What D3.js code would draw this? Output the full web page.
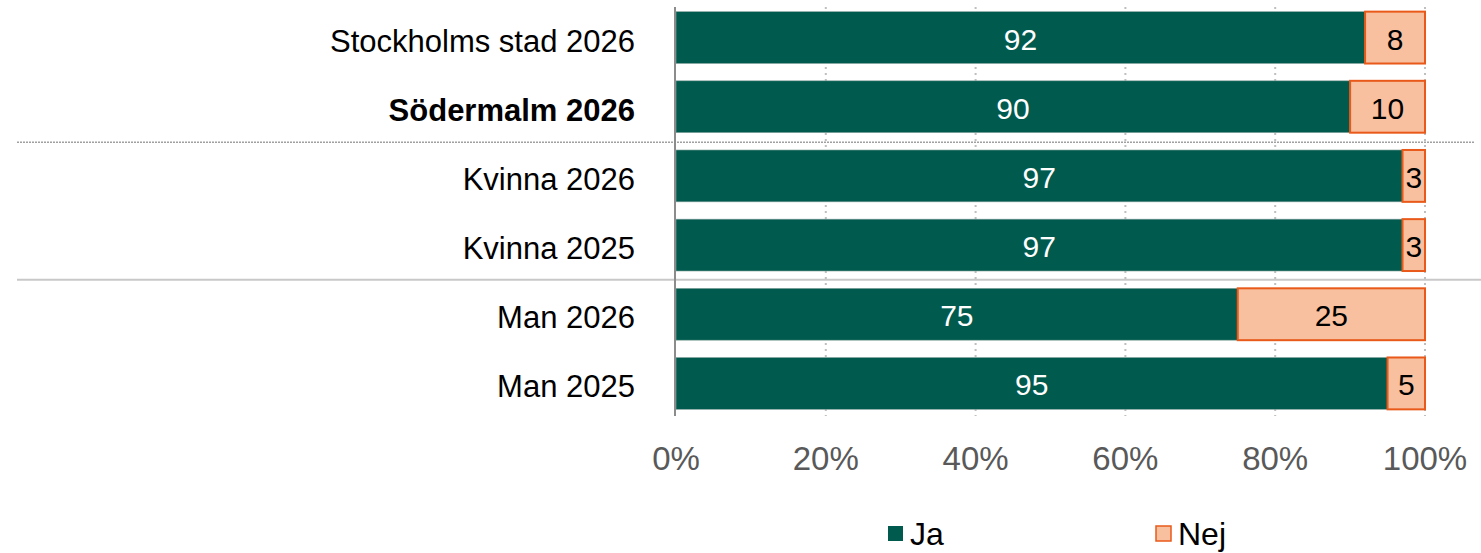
<!DOCTYPE html>
<html><head><meta charset="utf-8">
<script src="https://cdn.jsdelivr.net/npm/d3@7"></script>
<style>body{margin:0;background:#fff}svg{display:block;font-family:"Liberation Sans",Arial,sans-serif}</style>
</head><body><svg id="c" width="1481" height="553"></svg>
<script>
const categories = ["Stockholms stad 2026","Södermalm 2026","Kvinna 2026","Kvinna 2025","Man 2026","Man 2025"];
const boldCategories = ["Södermalm 2026"];
const ja = [92,90,97,97,75,95];
const nej = [8,10,3,3,25,5];
const ticks = [0,20,40,60,80,100];
const seriesNames = ["Ja","Nej"];
const colors = {Ja:"#005A4E", Nej:"#F9C09F"};
const nejStroke = "#E8591A";

const svg = d3.select("#c");
const x = d3.scaleLinear().domain([0,100]).range([676,1425]);
const y = d3.scaleBand().domain(categories).range([3,418]).paddingInner(0.25).paddingOuter(0.125);

// gridlines
svg.append("g").selectAll("line").data(ticks.slice(1)).join("line")
  .attr("x1",d=>x(d)).attr("x2",d=>x(d)).attr("y1",7).attr("y2",416)
  .attr("stroke","#BFBFBF").attr("stroke-width",2).attr("stroke-dasharray","2,4");

// separators
const sep1 = (y(categories[1])+y.bandwidth()+y(categories[2]))/2;
const sep2 = (y(categories[3])+y.bandwidth()+y(categories[4]))/2;
svg.append("line").attr("x1",17).attr("x2",1475).attr("y1",sep1+1).attr("y2",sep1+1)
  .attr("stroke","#A0A0A0").attr("stroke-width",1.5).attr("stroke-dasharray","2,1");
svg.append("line").attr("x1",17).attr("x2",1481).attr("y1",sep2).attr("y2",sep2)
  .attr("stroke","#C8C8C8").attr("stroke-width",2);

const rows = categories.map((c,i)=>({c, ja:ja[i], nej:nej[i]}));

// Ja bars
svg.append("g").selectAll("rect").data(rows).join("rect")
  .attr("x",x(0)).attr("y",d=>y(d.c)).attr("width",d=>x(d.ja)-x(0)).attr("height",y.bandwidth())
  .attr("fill",colors.Ja).attr("stroke","#8FA8A3").attr("stroke-width",0.6);
// Nej bars
svg.append("g").selectAll("rect").data(rows).join("rect")
  .attr("x",d=>x(d.ja)).attr("y",d=>y(d.c)).attr("width",d=>x(d.ja+d.nej)-x(d.ja)).attr("height",y.bandwidth())
  .attr("fill",colors.Nej).attr("stroke",nejStroke).attr("stroke-width",2);

// labels
svg.append("g").selectAll("text").data(rows).join("text")
  .attr("x",d=>(x(0)+x(d.ja))/2).attr("y",d=>y(d.c)+y.bandwidth()/2+12)
  .attr("text-anchor","middle").attr("fill","#fff").attr("font-size",30).text(d=>d.ja);
svg.append("g").selectAll("text").data(rows).join("text")
  .attr("x",d=>(x(d.ja)+x(d.ja+d.nej))/2).attr("y",d=>y(d.c)+y.bandwidth()/2+12)
  .attr("text-anchor","middle").attr("fill","#000").attr("font-size",30).text(d=>d.nej);

// y axis line
svg.append("line").attr("x1",675).attr("x2",675).attr("y1",7).attr("y2",416)
  .attr("stroke","#8C8C8C").attr("stroke-width",2);

// category labels
svg.append("g").selectAll("text").data(categories).join("text")
  .attr("x",635).attr("y",d=>y(d)+y.bandwidth()/2+14).attr("text-anchor","end")
  .attr("font-size",31).attr("fill","#000")
  .attr("font-weight",d=>boldCategories.includes(d)?"bold":"normal").text(d=>d);

// x tick labels
svg.append("g").selectAll("text").data(ticks).join("text")
  .attr("x",d=>x(d)).attr("y",470).attr("text-anchor","middle")
  .attr("font-size",33).attr("fill","#595959").text(d=>d+"%");

// legend
const leg = [{n:"Ja",x:887},{n:"Nej",x:1155}];
const lg = svg.append("g").selectAll("g").data(leg).join("g");
lg.append("rect").attr("x",d=>d.x+1).attr("y",526).attr("width",15).attr("height",15)
  .attr("fill",d=>colors[d.n]).attr("stroke",d=>d.n==="Nej"?nejStroke:"none").attr("stroke-width",1.5);
lg.append("text").attr("x",d=>d.x+23).attr("y",545).attr("font-size",32).attr("fill","#000").text(d=>d.n);
</script></body></html>
